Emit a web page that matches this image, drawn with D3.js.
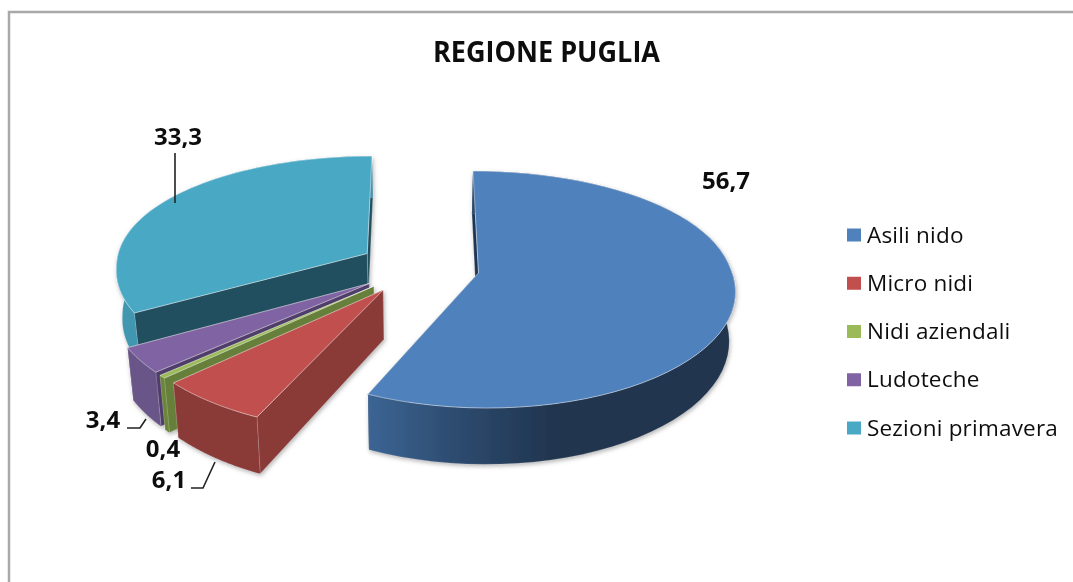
<!DOCTYPE html>
<html>
<head>
<meta charset="utf-8">
<script src="https://cdn.jsdelivr.net/npm/d3@7"></script>
<style>
  html, body { margin: 0; padding: 0; background: #fff; overflow: hidden; }
  text { font-family: "Open Sans", "Noto Sans", sans-serif; fill: #111; }
</style>
</head>
<body>
<div id="chart"></div>
<script>
var categories = ["Asili nido", "Micro nidi", "Nidi aziendali", "Ludoteche", "Sezioni primavera"];
var values = [56.7, 6.1, 0.4, 3.4, 33.3];
var topColors = ["#4f81bd", "#c0504d", "#9bbb59", "#8064a2", "#4aa8c4"];
var wallColors = ["#263f5e", "#8a3a37", "#6b8538", "#6b5489", "#3f97af"];
var faceColors = ["#1f3552", "#8a3a37", "#66803a", "#4f3d6b", "#23505e"];

var width = 1073, height = 582;

// fake 3d: ground plane is a unit disc, x to the right, z towards the viewer
var ox = 419, oy = 267, rx = 252, rz = 114.5;
var perspBack = 0.1, perspFront = 0.13, perspY = 0.14;
var thickness = 48, taper = 0.02, explode = 0.24;

function top3d(x, z) {
  var wx = 1 - (z < 0 ? perspBack : perspFront) * z;
  return [ox + rx * x / wx, oy + rz * z / (1 - perspY * z)];
}
function bottom3d(x, z) {
  var p = top3d(x, z);
  return [ox + (p[0] - ox) * (1 - taper), p[1] + thickness / (1 - perspY * z)];
}

var svg = d3.select("#chart").append("svg")
  .attr("width", width)
  .attr("height", height);

var defs = svg.append("defs");
var soft = defs.append("filter").attr("id", "soft");
soft.append("feGaussianBlur").attr("stdDeviation", 0.45);
var shadow = defs.append("filter").attr("id", "shadow")
  .attr("x", "-5%").attr("y", "-5%").attr("width", "110%").attr("height", "115%");
shadow.append("feDropShadow")
  .attr("dx", 1).attr("dy", 2).attr("stdDeviation", 2)
  .attr("flood-color", "#777").attr("flood-opacity", 0.55);

var grad = defs.append("linearGradient").attr("id", "blueWall");
grad.append("stop").attr("offset", "0%").attr("stop-color", "#3c6594");
grad.append("stop").attr("offset", "22%").attr("stop-color", "#2e4d72");
grad.append("stop").attr("offset", "50%").attr("stop-color", "#20354f");
grad.append("stop").attr("offset", "100%").attr("stop-color", "#20354f");

var root = svg.append("g").attr("filter", "url(#soft)");

// frame, runs off the picture on the right and at the bottom
root.append("path")
  .attr("d", d3.line()([[9, height + 5], [9, 12], [width + 5, 12]]))
  .attr("fill", "none")
  .attr("stroke", "#a9a9a9")
  .attr("stroke-width", 2.5);

root.append("text")
  .text("REGIONE PUGLIA")
  .attr("x", 546.5)
  .attr("y", 62)
  .attr("text-anchor", "middle")
  .attr("textLength", 227)
  .attr("lengthAdjust", "spacingAndGlyphs")
  .style("font-size", "28px")
  .style("font-weight", "bold");

var pie = d3.pie().sort(null).value(function(d) { return d; });
var arcs = pie(values);
var line = d3.line();

// back to front
var drawOrder = [4, 3, 2, 1, 0];
var pieG = root.append("g").attr("filter", "url(#shadow)");

drawOrder.forEach(function(i) {
  var a = arcs[i];
  var mid = (a.startAngle + a.endAngle) / 2;
  var cx = explode * Math.sin(mid), cz = -explode * Math.cos(mid);
  var rim = function(t) { return [cx + Math.sin(t), cz - Math.cos(t)]; };
  var apex = [cx, cz];

  var angles = d3.range(0, 61).map(function(k) {
    return a.startAngle + (a.endAngle - a.startAngle) * k / 60;
  });
  var rimPts = angles.map(rim);
  var g = pieG.append("g");

  // end face first, the start face is the one that looks at the viewer
  [a.endAngle, a.startAngle].forEach(function(t) {
    var e = rim(t);
    g.append("path")
      .attr("d", line([top3d(apex[0], apex[1]), top3d(e[0], e[1]), bottom3d(e[0], e[1]), bottom3d(apex[0], apex[1])]) + "Z")
      .attr("fill", faceColors[i])
      .attr("stroke", "rgba(255,255,255,0.35)")
      .attr("stroke-width", 0.7);
  });

  var wall = rimPts.map(function(p) { return top3d(p[0], p[1]); })
    .concat(rimPts.slice().reverse().map(function(p) { return bottom3d(p[0], p[1]); }));
  g.append("path")
    .attr("d", line(wall) + "Z")
    .attr("fill", i == 0 ? "url(#blueWall)" : wallColors[i])
    .attr("stroke", "rgba(255,255,255,0.2)")
    .attr("stroke-width", 0.6);

  var surface = [top3d(apex[0], apex[1])].concat(rimPts.map(function(p) { return top3d(p[0], p[1]); }));
  g.append("path")
    .attr("d", line(surface) + "Z")
    .attr("fill", topColors[i])
    .attr("stroke", "rgba(255,255,255,0.55)")
    .attr("stroke-width", 0.8);
});

// data labels and their leader lines
var labelPos = [[726, 189], [169, 488], [163, 457], [103, 428], [178, 145]];
var leaders = [null, [[191, 488], [203, 488], [215, 462]], null, [[127, 428], [140, 428], [146, 419]], [[175, 153], [175, 203]]];

leaders.forEach(function(l) {
  if (!l) return;
  root.append("path")
    .attr("d", line(l))
    .attr("fill", "none")
    .attr("stroke", "#222")
    .attr("stroke-width", 1.6);
});

root.selectAll("text.val")
  .data(values)
  .enter()
  .append("text")
  .attr("class", "val")
  .text(function(d) { return d3.format(".1f")(d).replace(".", ","); })
  .attr("x", function(d, i) { return labelPos[i][0]; })
  .attr("y", function(d, i) { return labelPos[i][1]; })
  .attr("text-anchor", "middle")
  .style("font-size", "24px")
  .style("font-weight", "bold");

// legend
var legendY = d3.scalePoint().domain(categories).range([235, 428]);
var legend = root.selectAll("g.legend")
  .data(categories)
  .enter()
  .append("g")
  .attr("class", "legend")
  .attr("transform", function(d) { return "translate(847," + legendY(d) + ")"; });

legend.append("rect")
  .attr("y", -6.5)
  .attr("width", 14)
  .attr("height", 13)
  .attr("fill", function(d, i) { return topColors[i]; });

legend.append("text")
  .text(function(d) { return d; })
  .attr("x", 20)
  .attr("y", 7.5)
  .style("font-size", "22.5px")
  .style("letter-spacing", "0.2px");
</script>
</body>
</html>
